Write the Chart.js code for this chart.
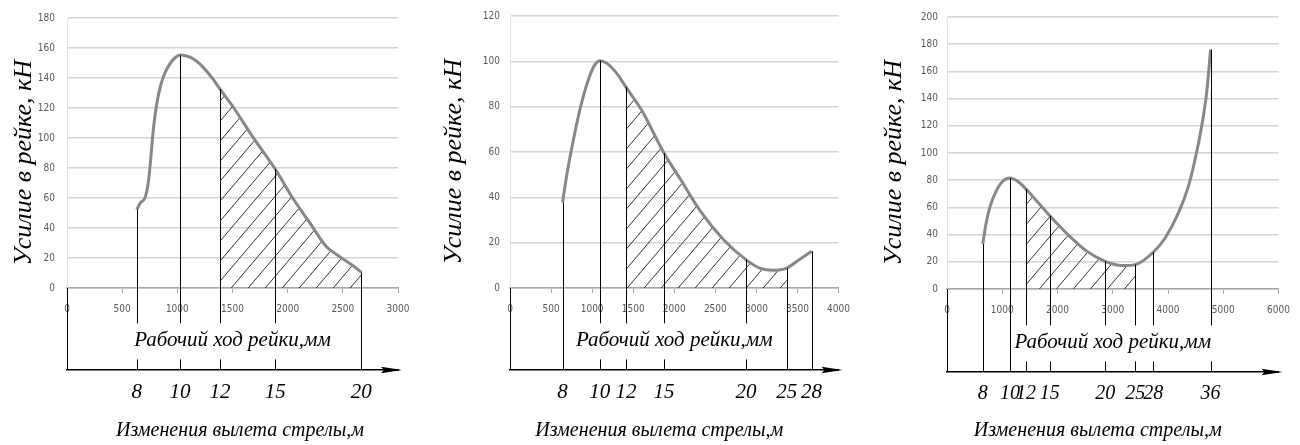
<!DOCTYPE html>
<html>
<head>
<meta charset="utf-8">
<script src="https://cdn.jsdelivr.net/npm/chart.js@4.4.0/dist/chart.umd.min.js"></script>
<style>
body { margin: 0; background: #fff; width: 1300px; height: 445px; position: relative; overflow: hidden; }
.panel { position: absolute; top: 0; height: 445px; }
</style>
</head>
<body>
<div class="panel" style="left:0px"><canvas id="chart1" width="430" height="445"></canvas></div>
<div class="panel" style="left:430px"><canvas id="chart2" width="430" height="445"></canvas></div>
<div class="panel" style="left:860px"><canvas id="chart3" width="440" height="445"></canvas></div>
<script>
// panel 1
const stroke_1 = [633, 663, 709, 739, 760, 778, 799, 829, 874, 935, 980, 1025, 1085, 1146, 1206, 1266, 1327, 1387, 1508, 1688, 1887, 2050, 2201, 2352, 2472, 2593, 2668]
const force_1 = [52.2, 56.6, 60.6, 71.6, 87, 102.4, 115.7, 128.9, 141, 149.8, 153.5, 155.3, 154.7, 152.7, 149.3, 144.5, 138.9, 132.6, 120.5, 100.2, 79.3, 59.5, 43.4, 27.5, 20.9, 14.8, 10.4]
const marks_1 = [633, 1025, 1387, 1887, 2668]
const reach_1 = ['8', '10', '12', '15', '20']
const hatch_1 = [1387, 2668]

// panel 2
const stroke_2 = [640, 688, 740, 788, 860, 940, 1020, 1092, 1180, 1300, 1412, 1600, 1876, 2080, 2320, 2600, 2872, 3040, 3200, 3368, 3520, 3672]
const force_2 = [37.7, 49.2, 59.5, 68.3, 80, 90.3, 97.7, 100.3, 99.1, 94.7, 88.6, 78.6, 59.5, 47.7, 33.8, 21.3, 12.5, 8.8, 7.8, 8.8, 12.5, 16.2]
const marks_2 = [640, 1092, 1412, 1876, 2872, 3368, 3672]
const reach_2 = ['8', '10', '12', '15', '20', '25', '28']
const hatch_2 = [1412, 3368]

// panel 3
const stroke_3 = [648, 708, 780, 888, 1008, 1140, 1278, 1428, 1668, 1860, 2208, 2508, 2862, 3168, 3408, 3732, 3948, 4188, 4368, 4488, 4608, 4698, 4770]
const force_3 = [33.1, 48.5, 60.8, 71.8, 79.2, 81.6, 79.2, 73.5, 62.7, 53.9, 39.2, 28.4, 20.3, 17.2, 17.9, 27, 37.5, 55.9, 75.5, 95, 119.6, 144, 176]
const marks_3 = [648, 1140, 1428, 1860, 2862, 3408, 3732, 4770]
const reach_3 = ['8', '10', '12', '15', '20', '25', '28', '36']
const hatch_3 = [1428, 3408]

const x_title = 'Рабочий ход рейки,мм'
const x2_title = 'Изменения вылета стрелы,м'
const y_title = 'Усилие в рейке, кН'

const serif = "'Liberation Serif', 'Times New Roman', serif"
const narrow = "'Liberation Sans Narrow', 'DejaVu Sans Condensed', 'Liberation Sans', sans-serif"

function make_points(xs, ys){
    var pts = []
    xs.forEach((v, i) => {
        pts.push({x: v, y: ys[i]})
    })
    return pts
}

function hatch_pattern(ctx){
    var c = document.createElement('canvas')
    c.width = 17
    c.height = 20
    var g = c.getContext('2d')
    g.strokeStyle = '#1e1e1e'
    g.lineWidth = 0.9
    g.beginPath()
    for (var k = -1; k <= 1; k++){
        g.moveTo(k * 17, 20)
        g.lineTo(k * 17 + 17, 0)
    }
    g.stroke()
    return ctx.createPattern(c, 'repeat')
}

const reach_plugin = {
    id: 'reach',
    beforeDatasetsDraw(chart, args, opts){
        // hatched area under the curve, between two marks
        var ctx = chart.ctx, x = chart.scales.x, y = chart.scales.y
        var line = chart.getDatasetMeta(0).dataset
        var pts = line.points
        var x0 = x.getPixelForValue(opts.hatch[0]), x1 = x.getPixelForValue(opts.hatch[1])
        var base = y.getPixelForValue(0)
        line.updateControlPoints(chart.chartArea, 'x')
        ctx.save()
        ctx.beginPath()
        ctx.rect(x0, chart.chartArea.top, x1 - x0, base - chart.chartArea.top)
        ctx.clip()
        ctx.beginPath()
        line.path(ctx)
        ctx.lineTo(pts[pts.length - 1].x, base)
        ctx.lineTo(pts[0].x, base)
        ctx.closePath()
        ctx.fillStyle = hatch_pattern(ctx)
        ctx.fill()
        ctx.restore()
    },
    afterDatasetsDraw(chart, args, opts){
        var ctx = chart.ctx, x = chart.scales.x, x2 = chart.scales.x2
        var meta = chart.getDatasetMeta(0)
        var data = chart.data.datasets[0].data
        var bottom = x2.top
        ctx.save()
        ctx.font = 'italic ' + opts.title_size + 'px ' + serif
        var tw = ctx.measureText(x_title).width
        var cx = (x.left + x.right) / 2
        var ty = x.bottom - opts.title_pad - opts.title_size * 0.6
        var gap_top = ty - 17, gap_bottom = ty + 19
        var lines = [[x.getPixelForValue(0), chart.chartArea.bottom]]
        opts.marks.forEach(v => {
            var p = meta.data[data.findIndex(d => d.x == v)]
            lines.push([p.x, p.y])
        })
        ctx.strokeStyle = '#000'
        ctx.lineWidth = 1
        lines.forEach(l => {
            var px = Math.round(l[0]) + 0.5
            ctx.beginPath()
            if (px > cx - tw / 2 - 2 && px < cx + tw / 2 + 2){
                ctx.moveTo(px, l[1])
                ctx.lineTo(px, gap_top)
                ctx.moveTo(px, gap_bottom)
                ctx.lineTo(px, bottom)
            } else {
                ctx.moveTo(px, l[1])
                ctx.lineTo(px, bottom)
            }
            ctx.stroke()
        })
        // arrow on the lower axis
        var r = x2.right + 4
        ctx.fillStyle = '#000'
        ctx.beginPath()
        ctx.moveTo(r, bottom)
        ctx.lineTo(r - 21, bottom - 3.2)
        ctx.lineTo(r - 18, bottom)
        ctx.lineTo(r - 21, bottom + 3.2)
        ctx.closePath()
        ctx.fill()
        ctx.restore()
    }
}

function generate_chart(element, stroke, force, marks, reach, hatch, x_max, x_step, y_max, box){
    var ctx = document.getElementById(element)
    var tick_font = {family: narrow, size: 10}
    return new Chart(ctx, {
        type: 'line',
        data: {
            datasets: [{
                data: make_points(stroke, force),
                borderColor: '#878787',
                borderWidth: 3,
                pointRadius: 0,
                fill: false,
                cubicInterpolationMode: 'monotone'
            }]
        },
        plugins: [reach_plugin],
        options: {
            responsive: false,
            animation: false,
            layout: {padding: {left: 0, right: box.right, top: box.top, bottom: 2}},
            scales: {
                x: {
                    type: 'linear',
                    position: 'bottom',
                    min: 0,
                    max: x_max,
                    ticks: {stepSize: x_step, color: '#595959', font: tick_font, padding: 10, maxRotation: 0, autoSkip: false,
                        callback: function(v){ return String(v) }},
                    grid: {drawOnChartArea: false, drawTicks: true, tickLength: 5, color: '#a6a6a6'},
                    border: {display: true, color: '#a6a6a6', width: 1.5},
                    title: {display: true, text: x_title, color: '#000', font: {family: serif, size: 21, style: 'italic'}, padding: {top: 0, bottom: 17}},
                    afterFit: function(s){ s.height = box.x_height }
                },
                x2: {
                    type: 'linear',
                    position: 'bottom',
                    min: 0,
                    max: x_max,
                    afterBuildTicks: function(s){ s.ticks = marks.map(v => ({value: v})) },
                    ticks: {
                        callback: function(v, i){ return reach[i] },
                        color: '#000',
                        font: {family: serif, size: box.reach_size, style: 'italic'},
                        padding: 10,
                        autoSkip: false,
                        maxRotation: 0,
                        minRotation: 0
                    },
                    grid: {drawOnChartArea: false, drawTicks: false},
                    border: {display: true, color: '#000', width: 1.5},
                    title: {display: true, text: box.x2_text, color: '#000', font: {family: serif, size: 20, style: 'italic'}, padding: {top: 0, bottom: 0}},
                    afterFit: function(s){ s.height = box.x2_height }
                },
                y: {
                    min: 0,
                    max: y_max,
                    ticks: {stepSize: 20, color: '#595959', font: tick_font, padding: box.tick_pad},
                    grid: {color: '#d4d4d4', lineWidth: 1.5, drawTicks: false},
                    border: {display: true, color: '#e2e2e2', width: 1},
                    title: {display: true, text: y_title + '   ', color: '#000', font: {family: serif, size: 26, style: 'italic'}, padding: {top: box.title_pad, bottom: 0}},
                    afterFit: function(s){ s.width = box.y_width }
                }
            },
            plugins: {
                legend: {display: false},
                tooltip: {enabled: false},
                reach: {marks: marks, hatch: hatch, title_size: 21, title_pad: 17}
            }
        }
    })
}

generate_chart('chart1', stroke_1, force_1, marks_1, reach_1, hatch_1, 3000, 500, 180,
    {y_width: 67, title_pad: 9, tick_pad: 12, right: 32, top: 16, x_height: 82, x2_height: 73,
     reach_size: 21, x2_text: '   ' + x2_title})
generate_chart('chart2', stroke_2, force_2, marks_2, reach_2, hatch_2, 4000, 500, 120,
    {y_width: 80, title_pad: 9, tick_pad: 10, right: 17, top: 16, x_height: 82, x2_height: 73,
     reach_size: 21, x2_text: x2_title + '      '})
generate_chart('chart3', stroke_3, force_3, marks_3, reach_3, hatch_3, 6000, 1000, 200,
    {y_width: 87, title_pad: 19, tick_pad: 9, right: 19, top: 17, x_height: 83, x2_height: 71,
     reach_size: 20, x2_text: x2_title + '      '})
</script>
</body>
</html>
